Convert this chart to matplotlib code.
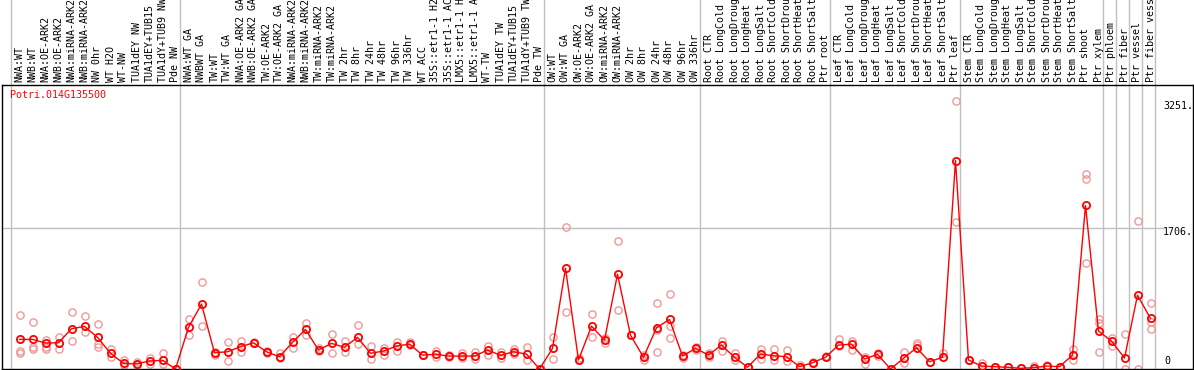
import matplotlib
matplotlib.use("Agg")
import matplotlib.pyplot as plt
import matplotlib.transforms as mtransforms

gene = "Potri.014G135500"

labels = [
    "NWA:WT", "NWB:WT", "NWA:OE-ARK2", "NWB:OE-ARK2", "NWA:miRNA-ARK2", "NWB:miRNA-ARK2",
    "NW 0hr", "WT H2O", "WT-NW", "TUA1dEY NW", "TUA1dEY+TUB15", "TUA1dY+TUB9 NW", "Pde NW",
    "NWA:WT GA", "NWBWT GA", "TW:WT", "TW:WT GA", "NWA:OE-ARK2 GA", "NWB:OE-ARK2 GA",
    "TW:OE-ARK2", "TW:OE-ARK2 GA", "NWA:miRNA-ARK2", "NWB:miRNA-ARK2", "TW:miRNA-ARK2",
    "TW:miRNA-ARK2", "TW 2hr", "TW 8hr", "TW 24hr", "TW 48hr", "TW 96hr", "TW 336hr",
    "WT ACC", "35S::etr1-1 H2", "35S::etr1-1 AC", "LMX5::etr1-1 H", "LMX5::etr1-1 A",
    "WT-TW", "TUA1dEY TW", "TUA1dEY+TUB15", "TUA1dY+TUB9 TW", "Pde TW",
    "OW:WT", "OW:WT GA", "OW:OE-ARK2", "OW:OE-ARK2 GA", "OW:miRNA-ARK2", "OW:miRNA-ARK2",
    "OW 2hr", "OW 8hr", "OW 24hr", "OW 48hr", "OW 96hr", "OW 336hr",
    "Root CTR", "Root LongCold", "Root LongDroug", "Root LongHeat", "Root LongSalt",
    "Root ShortCold", "Root ShortDrou", "Root ShortHeat", "Root ShortSalt", "Ptr root",
    "Leaf CTR", "Leaf LongCold", "Leaf LongDroug", "Leaf LongHeat", "Leaf LongSalt",
    "Leaf ShortCold", "Leaf ShortDrou", "Leaf ShortHeat", "Leaf ShortSalt", "Ptr leaf",
    "Stem CTR", "Stem LongCold", "Stem LongDroug", "Stem LongHeat", "Stem LongSalt",
    "Stem ShortCold", "Stem ShortDrou", "Stem ShortHeat", "Stem ShortSalt", "Ptr shoot",
    "Ptr xylem", "Ptr phloem", "Ptr fiber", "Ptr vessel", "Ptr fiber vess",
]

# index of last sample in each group (-1 = start)
group_ends = [-1, 12, 40, 52, 62, 72, 83, 84, 85, 86, 87]

means = [
    359, 359, 315, 318, 488, 517, 384, 190, 69, 61, 97, 105, 0,
    505, 787, 197, 209, 270, 318, 209, 149, 323, 480, 230, 311, 263, 384, 190, 218,
    278, 302, 169, 178, 157, 157, 157, 230, 166, 209, 181, 0,
    250, 1222, 109, 520, 351, 1150, 411, 142, 500, 601, 157, 250,
    169, 290, 142, 21, 181, 161, 149, 28, 76, 142,
    290, 302, 121, 178, 0, 129, 258, 88, 142, 2529,
    109, 36, 28, 21, 8, 16, 36, 28, 169, 1984, 460,
    339, 133, 895, 613,
]

reps = [
    [653, 221, 197], [565, 270, 242], [351, 270, 238], [391, 238], [686, 339], [641, 444],
    [541, 302, 270], [242, 142], [109, 48], [81, 48], [137, 61], [197, 61], [0, 0],
    [601, 411], [1056, 520], [209, 169], [323, 97], [342, 202], [325, 310], [220, 195],
    [190, 129], [391, 258], [553, 411], [250, 221], [424, 190], [339, 202], [532, 302],
    [278, 117], [250, 169], [330, 221], [330, 290], [169, 169], [221, 142], [169, 142],
    [190, 129], [209, 117], [278, 169], [209, 129], [238, 181], [263, 109], [0, 0],
    [384, 121], [1718, 690], [109, 129], [662, 384], [371, 311], [1549, 714], [411, 411],
    [169, 109], [802, 472, 209], [907, 524, 371], [169, 129], [270, 230],
    [190, 149], [339, 221], [190, 109], [21, 21], [238, 121], [238, 109], [230, 97],
    [48, 28], [88, 76], [157, 142],
    [359, 278], [342, 230], [142, 57], [197, 157], [0, 0], [209, 76], [318, 290],
    [88, 88], [190, 149], [3251, 1779],
    [109, 109], [69, 36], [28, 28], [21, 21], [8, 8], [36, 16], [48, 36], [28, 28],
    [238, 109], [2368, 2299, 1286], [609, 553, 202],
    [371, 282], [420, 0], [1791, 0], [795, 565, 488],
]

y_ticks = [3251, 1706, 0]

W, H = 1194, 370
fig = plt.figure(figsize=(W / 100, H / 100), dpi=100)
ax = fig.add_axes([2 / W, 1 / H, 1191 / W, 284 / H])
ax.set_xlim((2 - 19.5) / 13, (1193 - 19.5) / 13)
ax.set_ylim(0, 3445)
ax.set_xticks([])
ax.set_yticks([])
for s in ax.spines.values():
    s.set_linewidth(1.0)
    s.set_color("black")

mono = "DejaVu Sans Mono"
fs = 7.2

# group separators (span plot and label area)
trans_fig_y = mtransforms.blended_transform_factory(ax.transData, fig.transFigure)
for g in group_ends:
    xg = g + 4.5 / 13
    ax.plot([xg, xg], [0, 1], transform=trans_fig_y, color="#c0c0c0", lw=1.0,
            clip_on=False, zorder=1)

# horizontal gridline at middle tick
x_end = (1163 - 19.5) / 13
ax.plot([ax.get_xlim()[0], x_end], [y_ticks[1], y_ticks[1]], color="#c0c0c0", lw=1.0, zorder=1)

# replicate circles
for i, r in enumerate(reps):
    ax.plot([i] * len(r), r, linestyle="none", marker="o", ms=5.2, mfc="none",
            mec="#ee9999", mew=1.0, zorder=2)

# mean line
xs = list(range(len(means)))
ax.plot(xs, means, color="red", lw=1.0, marker="o", ms=5.2, mfc="none",
        mec="red", mew=1.3, zorder=3)

# sample labels (rotated)
for i, lab in enumerate(labels):
    ax.text(i, (H - 82) / H, lab, transform=trans_fig_y, rotation=90, ha="center",
            va="bottom", family=mono, fontsize=fs, color="black", clip_on=False)

# gene name
fig.text(10 / W, (H - 90) / H, gene, ha="left", va="top", family=mono,
         fontsize=fs, color="red")

# value labels on the right
fig.text(1163 / W, (H - 101) / H, f"{y_ticks[0]}.", ha="left", va="top",
         family=mono, fontsize=fs, color="black")
fig.text(1163 / W, (H - 227) / H, f"{y_ticks[1]}.", ha="left", va="top",
         family=mono, fontsize=fs, color="black")
fig.text(1164 / W, (H - 356) / H, f"{y_ticks[2]}", ha="left", va="top",
         family=mono, fontsize=fs, color="black")

fig.savefig("out.png", dpi=100)
